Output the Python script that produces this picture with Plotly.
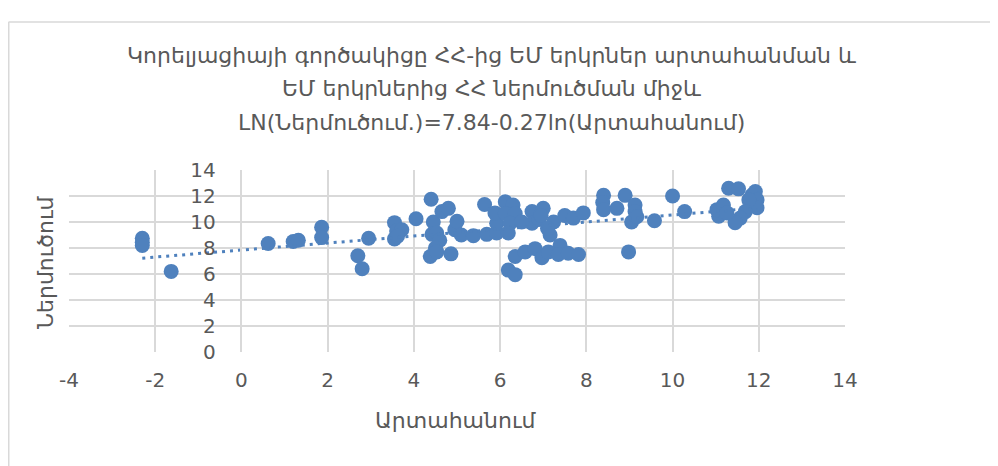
import plotly.graph_objects as go

# Data
export_vals = [
    -2.3, -2.3, -2.3, -1.63, 0.62, 1.2, 1.32, 1.86, 1.86, 2.7, 2.8, 2.95,
    3.55, 3.6, 3.72, 3.55, 3.62, 4.05, 4.4, 4.45, 4.42, 4.53, 4.6, 4.5, 4.38,
    4.53, 4.65, 4.8, 4.86, 4.95, 5.0, 5.1, 5.38, 5.64, 5.69, 5.92, 5.92, 5.88,
    6.12, 6.3, 6.12, 6.35, 6.23, 6.19, 6.74, 7.0, 6.74, 7.16, 7.24, 7.5, 7.7,
    7.93, 7.39, 6.35, 6.58, 6.81, 6.97, 7.12, 7.35, 7.58, 7.82, 6.19, 6.35,
    8.4, 8.38, 8.4, 8.71, 8.9, 9.13, 9.13, 9.05, 9.17, 8.98, 9.58, 10.0, 10.28,
    11.3, 11.53, 11.92, 11.84, 11.96, 11.96, 11.77, 11.69, 11.57, 11.45, 11.07,
    11.03, 11.18, 11.26, 6.9, 6.95, 7.1, 6.5,
]
import_vals = [
    8.75, 8.45, 8.2, 6.2, 8.35, 8.5, 8.6, 9.6, 8.8, 7.4, 6.4, 8.75,
    9.95, 9.3, 9.4, 8.7, 8.9, 10.25, 11.75, 10.0, 9.05, 9.15, 8.6, 8.0, 7.35,
    7.7, 10.8, 11.05, 7.55, 9.4, 10.05, 9.0, 8.95, 11.35, 9.05, 9.15, 9.9, 10.7,
    11.55, 11.3, 10.65, 10.65, 9.9, 9.15, 10.8, 11.05, 9.9, 9.0, 10.0, 10.5, 10.3,
    10.7, 8.2, 7.35, 7.7, 7.95, 7.25, 7.7, 7.5, 7.6, 7.5, 6.3, 5.95,
    12.05, 11.5, 10.95, 11.05, 12.05, 11.3, 10.8, 10.0, 10.4, 7.7, 10.1, 12.0, 10.8,
    12.6, 12.55, 12.35, 12.05, 11.7, 11.1, 11.7, 10.8, 10.3, 9.95, 10.45,
    10.95, 11.3, 10.7, 10.2, 10.5, 9.5, 10.0,
]

# Trendline coefficients printed in the title
TREND_INTERCEPT = 7.84
TREND_SLOPE = 0.27

title_lines = [
    "Կորելյացիայի գործակիցը ՀՀ-ից ԵՄ երկրներ արտահանման և",
    "ԵՄ երկրներից ՀՀ ներմուծման միջև",
    "LN(Ներմուծում.)=7.84-0.27ln(Արտահանում)",
]
x_title = "Արտահանում"
y_title = "Ներմուծում"

x_ticks = [-4, -2, 0, 2, 4, 6, 8, 10, 12, 14]
y_ticks = [0, 2, 4, 6, 8, 10, 12, 14]

BLUE = "#4F81BD"
GRID = "#D9D9D9"
TXT = "#595959"
FONT = "DejaVu Sans, sans-serif"

x_min, x_max = min(export_vals), max(export_vals)
trend_x = [x_min, x_max]
trend_y = [TREND_INTERCEPT + TREND_SLOPE * v for v in trend_x]

fig = go.Figure()
fig.add_trace(go.Scatter(
    x=export_vals, y=import_vals, mode="markers",
    marker=dict(color=BLUE, size=15, line=dict(width=0)),
    showlegend=False, hoverinfo="x+y",
))
fig.add_trace(go.Scatter(
    x=trend_x, y=trend_y, mode="lines",
    line=dict(color=BLUE, width=3, dash="3px,5px"),
    showlegend=False, hoverinfo="skip",
))

OFF = 8  # page body margin
W, H = 990, 458
# plot area in screen pixels
SX0, SX1, SY0, SY1 = 69, 845, 170, 352
L = SX0 - OFF
T = SY0 - OFF
R = W - (SX1 - OFF)
B = H - (SY1 - OFF)
pw = SX1 - SX0
ph = SY1 - SY0

def px2x(sx):
    return (sx - SX0) / pw

def py2y(sy):
    return (SY1 - sy) / ph

annotations = []
for line, sy in zip(title_lines, [55, 88, 122]):
    annotations.append(dict(
        text=line, xref="paper", yref="paper", x=px2x(492), y=py2y(sy),
        xanchor="center", yanchor="middle", showarrow=False,
        font=dict(family=FONT, size=22, color=TXT),
    ))
annotations.append(dict(
    text=x_title, xref="paper", yref="paper", x=px2x(455), y=py2y(420),
    xanchor="center", yanchor="middle", showarrow=False,
    font=dict(family=FONT, size=22, color=TXT),
))
annotations.append(dict(
    text=y_title, xref="paper", yref="paper", x=px2x(45), y=py2y(262),
    xanchor="center", yanchor="middle", showarrow=False, textangle=-90,
    font=dict(family=FONT, size=22, color=TXT),
))

shapes = [
    dict(type="line", xref="paper", yref="paper",
         x0=px2x(8.5), x1=px2x(1010), y0=py2y(22), y1=py2y(22),
         line=dict(color=GRID, width=1.5)),
    dict(type="line", xref="paper", yref="paper",
         x0=px2x(8.75), x1=px2x(8.75), y0=py2y(22), y1=py2y(480),
         line=dict(color=GRID, width=1.5)),
]

fig.update_layout(
    width=W, height=H,
    margin=dict(l=L, r=R, t=T, b=B, pad=0),
    paper_bgcolor="white", plot_bgcolor="white",
    annotations=annotations, shapes=shapes,
    xaxis=dict(
        range=[-4, 14], tickvals=x_ticks, ticktext=[str(v) for v in x_ticks],
        showgrid=True, gridcolor=GRID, gridwidth=1.5,
        zeroline=False, showline=False, ticks="",
        tickfont=dict(family=FONT, size=20, color=TXT),
        ticklabelstandoff=14, fixedrange=True,
    ),
    yaxis=dict(
        range=[0, 14], tickvals=y_ticks, ticktext=[str(v) for v in y_ticks],
        showgrid=True, gridcolor=GRID, gridwidth=1.5,
        zeroline=False, showline=True, linecolor=GRID, linewidth=1.5,
        anchor="free", position=4 / 18, ticks="",
        tickfont=dict(family=FONT, size=20, color=TXT),
        ticklabelstandoff=21, fixedrange=True,
    ),
)

fig.write_html("out.html")
